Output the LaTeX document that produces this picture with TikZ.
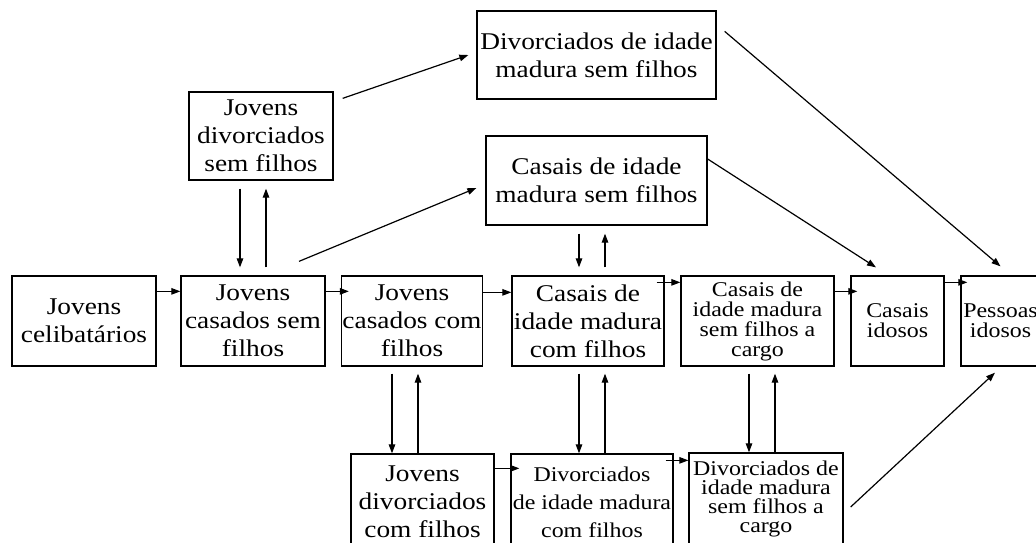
\documentclass[tikz,border=0pt]{standalone}
\usepackage{fontspec}
\setmainfont{Liberation Serif}[FakeStretch=1.14]
\usetikzlibrary{arrows.meta}

\begin{document}
\begin{tikzpicture}[x=1pt,y=-1pt,
box/.style={draw, line width=1.3pt, inner sep=1pt, align=center, font=\fontsize{24}{28}\selectfont},
boxsmall/.style={box, font=\fontsize{21}{20}\selectfont},
arr/.style={line width=1.2pt, -{Triangle[length=9pt,width=6.5pt]}},
vpair/.style={arr, shorten <=8pt, shorten >=8pt},
vdown/.style={arr, shorten <=7pt},
vup/.style={arr, shorten >=7pt}]
\useasboundingbox (0,0) rectangle (1036,542);
\node[box, minimum width=144pt, minimum height=90pt] (cel) at (84,321) {Jovens\\celibatários};
\node[box, minimum width=144pt, minimum height=90pt] (jcs) at (253,321) {Jovens\\casados sem\\filhos};
\node[box, minimum width=140pt, minimum height=90pt] (jcc) at (412,321) {Jovens\\casados com\\filhos};
\node[box, minimum width=152pt, minimum height=90pt] (cmc) at (588,321) {Casais de\\idade madura\\com filhos};
\node[boxsmall, minimum width=153pt, minimum height=90pt] (csc) at (757.5,321) {Casais de\\idade madura\\sem filhos a\\cargo};
\node[boxsmall, minimum width=93pt, minimum height=90pt] (cid) at (897.5,321) {Casais\\idosos};
\node[boxsmall, minimum width=79pt, minimum height=90pt] (pid) at (1000.5,321) {Pessoas\\idosos};
\node[box, minimum width=144pt, minimum height=88pt] (jds) at (261,136) {Jovens\\divorciados\\sem filhos};
\node[box, minimum width=239pt, minimum height=88pt] (dms) at (596.5,55) {Divorciados de idade\\madura sem filhos};
\node[box, minimum width=221pt, minimum height=89pt] (cms) at (596.5,180.5) {Casais de idade\\madura sem filhos};
\node[box, minimum width=143pt, minimum height=96pt] (jdc) at (422.5,502) {Jovens\\divorciados\\com filhos};
\node[boxsmall, font=\fontsize{21}{28}\selectfont, minimum width=162pt, minimum height=96pt] (dmc) at (592,502) {Divorciados\\de idade madura\\com filhos};
\node[boxsmall, font=\fontsize{21}{19}\selectfont, minimum width=154pt, minimum height=92pt] (dsc) at (766,499) {Divorciados de\\idade madura\\sem filhos a\\cargo};
\draw[arr] ([yshift=-16pt]cel.north east) -- ([yshift=-16pt]jcs.north west);
\draw[arr] ([yshift=-16pt]jcs.north east) -- ([shift={(8pt,-16pt)}]jcc.north west);
\draw[arr] ([yshift=-17pt]jcc.north east) -- ([yshift=-17pt]cmc.north west);
\draw[arr] ([shift={(-8pt,-7pt)}]cmc.north east) -- ([yshift=-7pt]csc.north west);
\draw[arr] ([yshift=-16pt]csc.north east) -- ([shift={(7pt,-16pt)}]cid.north west);
\draw[arr] ([yshift=-7pt]cid.north east) -- ([shift={(7pt,-7pt)}]pid.north west);
\draw[arr] ([yshift=-15pt]jdc.north east) -- ([shift={(9pt,-15pt)}]dmc.north west);
\draw[arr] ([shift={(-8pt,-7pt)}]dmc.north east) -- ([yshift=-8pt]dsc.north west);
\draw[vpair] (240,0 |- jds.south) -- (240,0 |- jcs.north);
\draw[vpair] (266,0 |- jcs.north) -- (266,0 |- jds.south);
\draw[vpair] (579,0 |- cms.south) -- (579,0 |- cmc.north);
\draw[vpair] (605,0 |- cmc.north) -- (605,0 |- cms.south);
\draw[vdown] (392,0 |- jcc.south) -- (392,0 |- jdc.north);
\draw[vup] (418,0 |- jdc.north) -- (418,0 |- jcc.south);
\draw[vdown] (579,0 |- cmc.south) -- (579,0 |- dmc.north);
\draw[vup] (605,0 |- dmc.north) -- (605,0 |- cmc.south);
\draw[vdown] (749,0 |- csc.south) -- (749,0 |- dsc.north);
\draw[vup] (775,0 |- dsc.north) -- (775,0 |- csc.south);
\draw[arr] ([shift={(9pt,-7pt)}]jds.north east) -- ([xshift=-8pt]dms.west);
\draw[arr] ([shift={(46pt,14pt)}]jcs.north) -- ([shift={(-9pt,-7.5pt)}]cms.west);
\draw[arr] ([yshift=21.5pt]cms.east) -- ([shift={(-21.5pt,8pt)}]cid.north);
\draw[arr] ([shift={(8pt,-21pt)}]dms.north east) -- ([yshift=9pt]pid.north);
\draw[arr] ([shift={(7pt,-8pt)}]dsc.east) -- ([shift={(-5.5pt,-6pt)}]pid.south);
\end{tikzpicture}
\end{document}
